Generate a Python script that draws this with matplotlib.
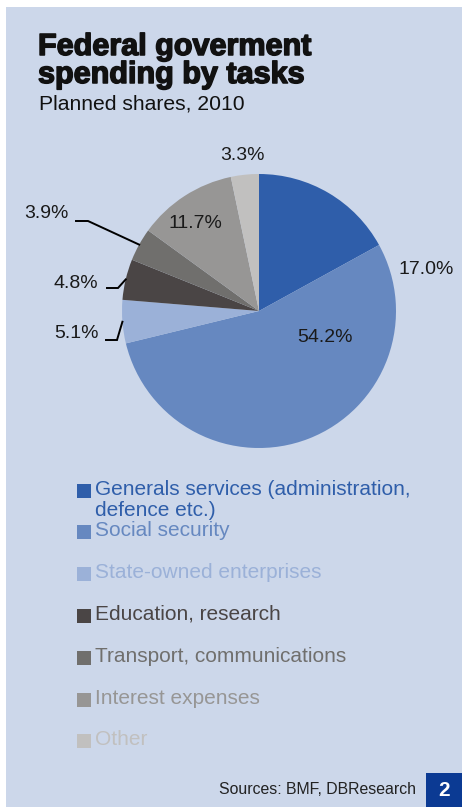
import matplotlib.pyplot as plt
import matplotlib.patheffects as pe
import numpy as np
from matplotlib.patches import Rectangle

categories = ["Generals services (administration,\ndefence etc.)", "Social security",
              "State-owned enterprises", "Education, research",
              "Transport, communications", "Interest expenses", "Other"]
shares = [17.0, 54.2, 5.1, 4.8, 3.9, 11.7, 3.3]
colors = ["#2F5EAA", "#6688C0", "#9BB1D8", "#4A4545", "#706F6D", "#979695", "#C1C0BF"]

plt.rcParams['font.family'] = ['Liberation Sans', 'DejaVu Sans']

W, H = 462, 807
fig = plt.figure(figsize=(W / 100, H / 100), dpi=100)
ax = fig.add_axes([0, 0, 1, 1])


def Y(py):
    # pixel row (from top) -> data y
    return H - py


bg = '#CCD7EA'
ax.add_patch(Rectangle((6, 0), W - 6, Y(7), facecolor=bg, edgecolor='none', zorder=0))

# pie
cx, cy, r = 259, Y(311), 137
wedges, _ = ax.pie(shares, colors=colors, startangle=90, counterclock=False,
                   radius=r, center=(cx, cy), wedgeprops=dict(linewidth=0))
for w in wedges:
    w.set_zorder(2)

ax.set_xlim(0, W)
ax.set_ylim(0, H)
ax.set_aspect('equal')
ax.axis('off')

# value labels (positions in pixels)
label_pos = {0: (426, 269), 1: (325, 337), 2: (76, 333), 3: (76, 283),
             4: (46, 213), 5: (195, 223), 6: (242, 155)}
for i, (px, py) in label_pos.items():
    ax.text(px, Y(py), f"{shares[i]:.1f}%", fontsize=14, color='#1a1a1a',
            ha='center', va='center', zorder=3)

# leader lines for small slices: (start x, elbow x, y)
leaders = {4: (76, 88, 221), 3: (107, 118, 288), 2: (106, 117, 340)}
for i, (x0, x1, py) in leaders.items():
    w = wedges[i]
    th = np.deg2rad((w.theta1 + w.theta2) / 2)
    ex, ey = cx + r * np.cos(th), cy + r * np.sin(th)
    ax.plot([x0, x1, ex], [Y(py), Y(py), ey], color='black', lw=1.4,
            solid_joinstyle='miter', zorder=3)

# title
heavy = [pe.withStroke(linewidth=1.1, foreground='#111111')]
ax.text(38, Y(55), "Federal goverment", fontsize=22, fontweight='bold',
        color='#111111', ha='left', va='baseline', path_effects=heavy)
ax.text(38, Y(83), "spending by tasks", fontsize=22, fontweight='bold',
        color='#111111', ha='left', va='baseline', path_effects=heavy)
ax.text(39, Y(109), "Planned shares, 2010", fontsize=15.2, color='#111111',
        ha='left', va='baseline')

# legend
rows = [491, 532, 574, 616, 658, 700, 741]
for lab, col, py in zip(categories, colors, rows):
    ax.add_patch(Rectangle((77, Y(py) - 7), 14, 14, facecolor=col,
                           edgecolor='none', zorder=3))
    ax.text(95, Y(py) + 11, lab, fontsize=15, color=col, ha='left', va='top',
            linespacing=1.15, zorder=3)

# source + chart number
ax.text(416, Y(790), "Sources: BMF, DBResearch", fontsize=11.4, color='#222222',
        ha='right', va='center')
ax.add_patch(Rectangle((426, 0), W - 426, Y(773), facecolor='#0B3A93',
                       edgecolor='none', zorder=3))
ax.text(444, Y(791), "2", fontsize=15, fontweight='bold', color='white',
        ha='center', va='center', zorder=4)

plt.savefig('out.png', dpi=100, facecolor='white')
